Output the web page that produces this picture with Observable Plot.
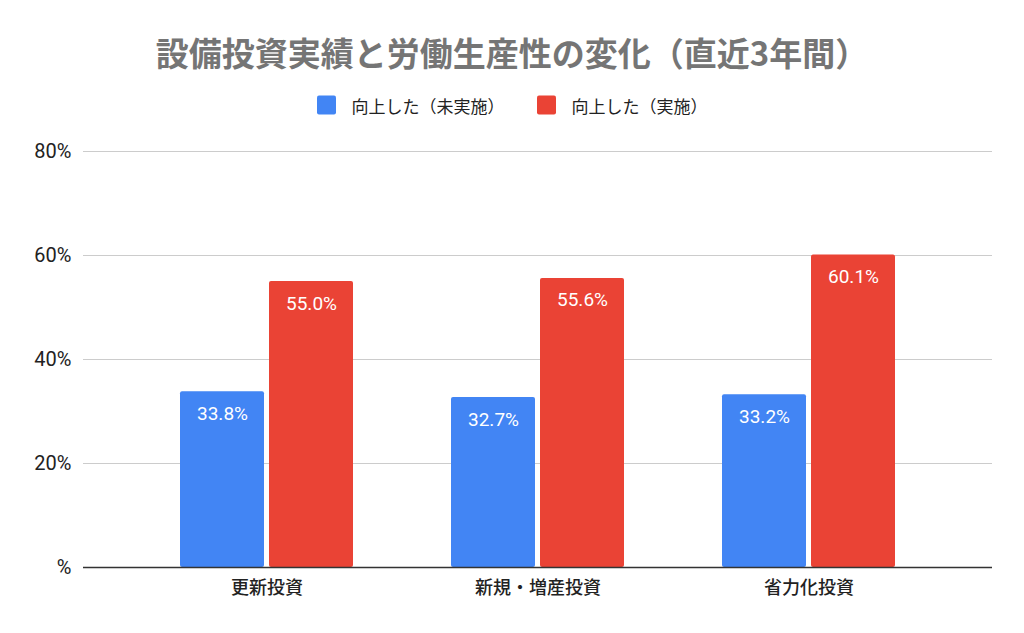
<!DOCTYPE html>
<html>
<head>
<meta charset="utf-8">
<script src="https://cdn.jsdelivr.net/npm/d3@7"></script>
<script src="https://cdn.jsdelivr.net/npm/@observablehq/plot@0.6"></script>
<style>
  html, body { margin: 0; padding: 0; background: #fff; }
  body { width: 1024px; height: 633px; overflow: hidden; font-family: Roboto, "Noto Sans CJK JP", sans-serif; }
  #header { position: relative; width: 1024px; height: 130px; }
  #title { position: absolute; left: 0; width: 1024px; top: 52px; transform: translateY(-50%);
    text-align: center; font-size: 33px; font-weight: bold; color: #757575; font-family: "Noto Sans CJK JP", sans-serif; white-space: nowrap; }
  #legend { position: absolute; left: 0; width: 1024px; top: 105px; transform: translateY(-50%);
    display: flex; justify-content: center; align-items: center; font-size: 17px; color: #222; font-family: "Noto Sans CJK JP", sans-serif; }
  .item { display: flex; align-items: center; margin: 0 16px; }
  .sw { width: 19px; height: 19px; border-radius: 2px; margin-right: 16px; }
  #chart svg { display: block; }
</style>
</head>
<body>
<div id="header">
  <div id="title"></div>
  <div id="legend"></div>
</div>
<div id="chart"></div>
<script>
const titleText = "設備投資実績と労働生産性の変化（直近3年間）";
const categories = ["更新投資", "新規・増産投資", "省力化投資"];
const seriesNames = ["向上した（未実施）", "向上した（実施）"];
const notImplemented = [33.8, 32.7, 33.2];
const implemented = [55.0, 55.6, 60.1];
const yTicks = [0, 20, 40, 60, 80];
const colors = ["#4285F4", "#EA4335"];

document.getElementById("title").textContent = titleText;
const legend = document.getElementById("legend");
seriesNames.forEach((s, i) => {
  const item = document.createElement("div");
  item.className = "item";
  const sw = document.createElement("div");
  sw.className = "sw";
  sw.style.background = colors[i];
  const t = document.createElement("span");
  t.textContent = s;
  item.appendChild(sw);
  item.appendChild(t);
  legend.appendChild(item);
});

const blueData = categories.map((c, i) => ({category: c, series: seriesNames[0], value: notImplemented[i]}));
const redData = categories.map((c, i) => ({category: c, series: seriesNames[1], value: implemented[i]}));

const half = 89;   // inset to split each category band into two bars
const shift = 44.5;

const chart = Plot.plot({
  width: 1024,
  height: 503,
  marginTop: 21,
  marginBottom: 66,
  marginLeft: 83,
  marginRight: 32,
  style: {fontFamily: 'Roboto, "Noto Sans CJK JP", sans-serif', background: "#fff"},
  x: {domain: categories, paddingInner: 0.36, paddingOuter: 0.351, label: null},
  y: {domain: [0, 80], label: null},
  color: {domain: seriesNames, range: colors},
  marks: [
    Plot.gridY(yTicks.filter(d => d > 0), {stroke: "#cccccc", strokeOpacity: 1, strokeWidth: 1.2}),
    Plot.axisY(yTicks, {tickSize: 0, tickPadding: 12, fontSize: 20, fill: "#222", tickFormat: d => d === 0 ? "%" : d + "%", label: null}),
    Plot.barY(blueData, {x: "category", y: "value", fill: "series", rx: 2, insetRight: half}),
    Plot.barY(redData, {x: "category", y: "value", fill: "series", rx: 2, insetLeft: half}),
    Plot.ruleY([0], {stroke: "#333", strokeWidth: 1.3}),
    Plot.text(blueData, {x: "category", y: "value", text: d => d.value.toFixed(1) + "%", dx: -shift, dy: 22, fill: "white", fontSize: 19}),
    Plot.text(redData, {x: "category", y: "value", text: d => d.value.toFixed(1) + "%", dx: shift, dy: 22, fill: "white", fontSize: 19}),
    Plot.axisX({tickSize: 0, tickPadding: 14, fontSize: 18, fill: "#222", label: null, fontWeight: 500, fontFamily: '"Noto Sans CJK JP", sans-serif'})
  ]
});
document.getElementById("chart").appendChild(chart);
</script>
</body>
</html>
